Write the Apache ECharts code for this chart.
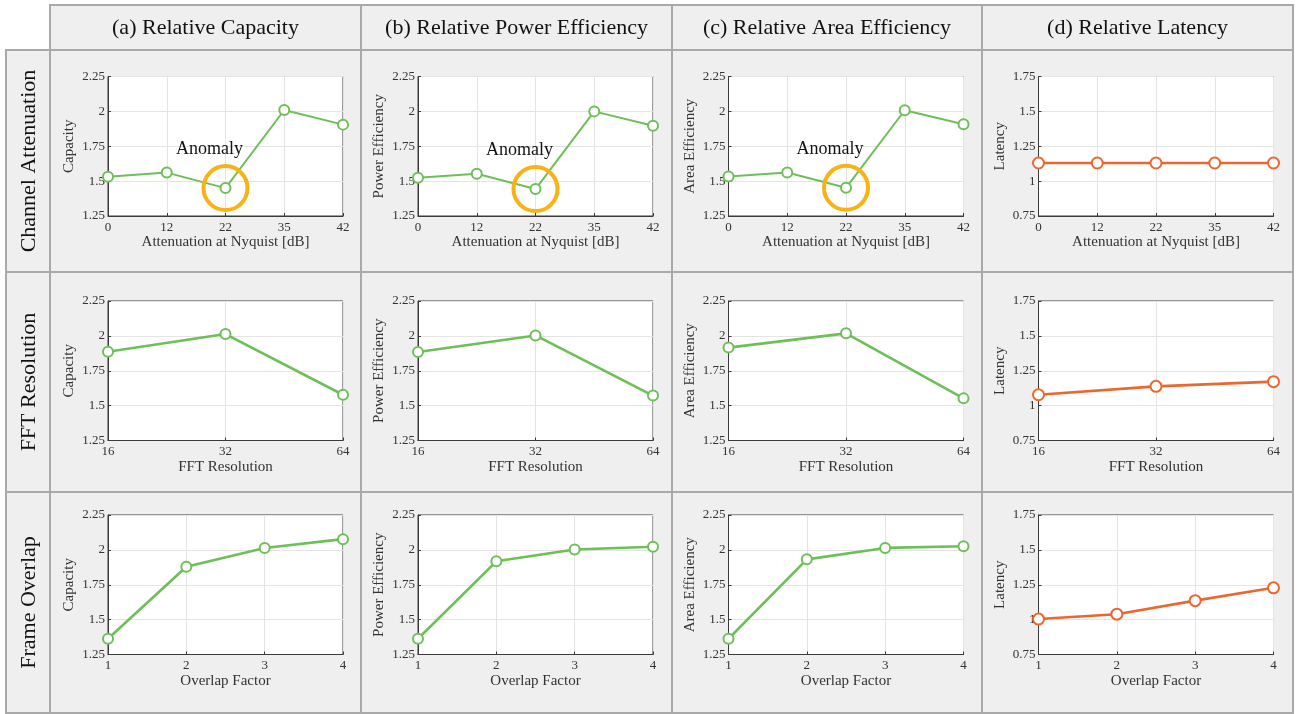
<!DOCTYPE html>
<html>
<head>
<meta charset="utf-8">
<script src="https://cdn.jsdelivr.net/npm/echarts@6/dist/echarts.min.js"></script>
<style>
html,body{margin:0;padding:0;background:#fff;}
#chart{width:1299px;height:714px;}
</style>
</head>
<body>
<div id="chart"></div>
<script>
// ---- data ----
const columnTitles = ['(a) Relative Capacity', '(b) Relative Power Efficiency', '(c) Relative Area Efficiency', '(d) Relative Latency'];
const rowTitles = ['Channel Attenuation', 'FFT Resolution', 'Frame Overlap'];
const yNames = ['Capacity', 'Power Efficiency', 'Area Efficiency', 'Latency'];
const xNames = ['Attenuation at Nyquist [dB]', 'FFT Resolution', 'Overlap Factor'];

const attenCats = ['0', '12', '22', '35', '42'];
const fftCats = ['16', '32', '64'];
const overlapCats = ['1', '2', '3', '4'];

const capAtten = [1.532, 1.561, 1.450, 2.010, 1.905];
const powAtten = [1.525, 1.553, 1.443, 2.000, 1.897];
const areaAtten = [1.533, 1.562, 1.452, 2.008, 1.908];
const latAtten = [1.13, 1.13, 1.13, 1.13, 1.13];

const capFft = [1.886, 2.013, 1.578];
const powFft = [1.884, 2.003, 1.572];
const areaFft = [1.916, 2.018, 1.552];
const latFft = [1.078, 1.138, 1.172];

const capOverlap = [1.363, 1.879, 2.013, 2.077];
const powOverlap = [1.363, 1.918, 2.003, 2.022];
const areaOverlap = [1.363, 1.932, 2.014, 2.026];
const latOverlap = [1.004, 1.039, 1.136, 1.228];

const effTicks = [1.25, 2.25, 0.25];   // min, max, interval
const latTicks = [0.75, 1.75, 0.25];

const anomalyIndex = 2;   // category '22'
const anomalyLabel = 'Anomaly';

// ---- layout / style ----
const FONT = '"Liberation Serif", "Times New Roman", serif';
const GREEN = '#6dbf58';
const ORANGE = '#ea672f';
const RING = '#f9b216';
const colX = [108, 418, 728.5, 1038.5];
const rowY = [76.5, 301, 515];
const plotW = 235, plotH = 139.5;
const tableCols = [50, 361, 672, 982, 1293];
const tableRows = [50, 272, 492, 713];
const headerTop = 5, rowHeadLeft = 6;

const rowsData = [
  {cats: attenCats, vals: [capAtten, powAtten, areaAtten, latAtten]},
  {cats: fftCats, vals: [capFft, powFft, areaFft, latFft]},
  {cats: overlapCats, vals: [capOverlap, powOverlap, areaOverlap, latOverlap]}
];

const grids = [], xAxes = [], yAxes = [], series = [];
let gi = 0;
rowsData.forEach((row, r) => {
  for (let c = 0; c < 4; c++) {
    const isLat = c === 3;
    const ticks = isLat ? latTicks : effTicks;
    grids.push({
      left: colX[c], top: rowY[r], width: plotW, height: plotH,
      show: true, backgroundColor: '#ffffff', borderColor: '#3a3a3a', borderWidth: 1
    });
    xAxes.push({
      type: 'category', gridIndex: gi, data: row.cats, boundaryGap: false,
      name: xNames[r], nameLocation: 'middle', nameGap: 14,
      nameTextStyle: {fontFamily: FONT, fontSize: 15, color: '#333'},
      axisLine: {show: true, lineStyle: {color: '#3a3a3a', width: 1}},
      axisTick: {show: true, inside: true, length: 3, lineStyle: {color: '#3a3a3a'}},
      axisLabel: {margin: 5, fontFamily: FONT, fontSize: 13, color: '#333'},
      splitLine: {show: true, lineStyle: {color: '#e4e4e4', width: 1}}
    });
    yAxes.push({
      type: 'value', gridIndex: gi, min: ticks[0], max: ticks[1], interval: ticks[2],
      name: yNames[c], nameLocation: 'middle', nameGap: 31,
      nameTextStyle: {fontFamily: FONT, fontSize: 15, color: '#333'},
      axisLine: {show: true, lineStyle: {color: '#3a3a3a', width: 1}},
      axisTick: {show: true, inside: true, length: 3, lineStyle: {color: '#3a3a3a'}},
      axisLabel: {margin: 3, fontFamily: FONT, fontSize: 13, color: '#333'},
      splitLine: {show: true, lineStyle: {color: '#e4e4e4', width: 1}}
    });
    const color = isLat ? ORANGE : GREEN;
    const thin = (r === 0 && !isLat);
    const s = {
      type: 'line', xAxisIndex: gi, yAxisIndex: gi, data: row.vals[c],
      symbol: 'emptyCircle', symbolSize: isLat ? 11 : 10,
      lineStyle: {color: color, width: thin ? 2 : 2.6},
      itemStyle: {color: color, borderColor: color, borderWidth: thin ? 1.6 : 2.4},
      emphasis: {disabled: true}, silent: true, z: 3
    };
    if (r === 0 && !isLat) {
      s.markPoint = {
        silent: true, animation: false,
        data: [{
          coord: [anomalyIndex, row.vals[c][anomalyIndex]],
          symbol: 'circle', symbolSize: 44,
          itemStyle: {color: 'rgba(0,0,0,0)', borderColor: RING, borderWidth: 4},
          label: {show: true, formatter: anomalyLabel, position: 'inside', offset: [-16, -39],
                  fontFamily: FONT, fontSize: 18, color: '#111'}
        }]
      };
    }
    series.push(s);
    gi++;
  }
});

// table cells
const graphic = [];
const CELL = {fill: '#efefef', stroke: '#a9a9a9', lineWidth: 2};
for (let c = 0; c < 4; c++) {
  graphic.push({type: 'rect', z: -10, silent: true,
    shape: {x: tableCols[c], y: headerTop, width: tableCols[c + 1] - tableCols[c], height: tableRows[0] - headerTop},
    style: CELL});
  for (let r = 0; r < 3; r++) {
    graphic.push({type: 'rect', z: -10, silent: true,
      shape: {x: tableCols[c], y: tableRows[r], width: tableCols[c + 1] - tableCols[c], height: tableRows[r + 1] - tableRows[r]},
      style: CELL});
  }
  graphic.push({type: 'text', z: 5, silent: true,
    x: (tableCols[c] + tableCols[c + 1]) / 2, y: (headerTop + tableRows[0]) / 2 + 1,
    style: {text: columnTitles[c], font: '22px ' + FONT, fill: '#111', align: 'center', verticalAlign: 'middle'}});
}
for (let r = 0; r < 3; r++) {
  graphic.push({type: 'rect', z: -10, silent: true,
    shape: {x: rowHeadLeft, y: tableRows[r], width: tableCols[0] - rowHeadLeft, height: tableRows[r + 1] - tableRows[r]},
    style: CELL});
  graphic.push({type: 'text', z: 5, silent: true,
    x: (rowHeadLeft + tableCols[0]) / 2 + 1, y: (tableRows[r] + tableRows[r + 1]) / 2,
    rotation: Math.PI / 2,
    style: {text: rowTitles[r], font: '22px ' + FONT, fill: '#111', align: 'center', verticalAlign: 'middle'}});
}

const chart = echarts.init(document.getElementById('chart'), null, {renderer: 'canvas'});
chart.setOption({
  animation: false,
  backgroundColor: '#ffffff',
  grid: grids, xAxis: xAxes, yAxis: yAxes, series: series,
  graphic: graphic
});
</script>
</body>
</html>
